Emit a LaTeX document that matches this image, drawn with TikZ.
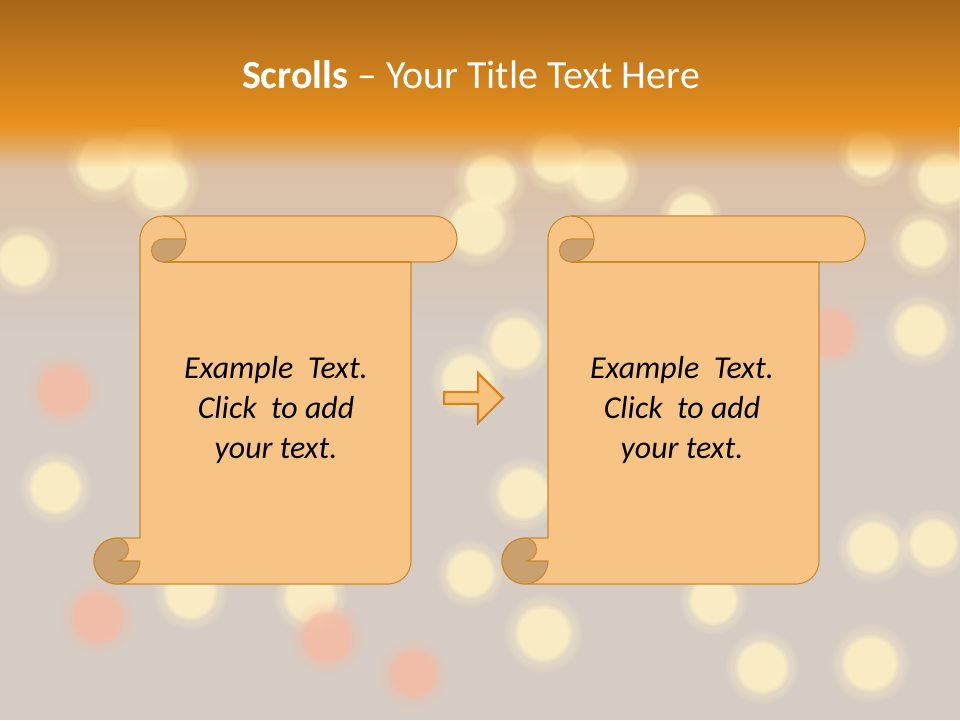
\documentclass[tikz,border=0pt]{standalone}
\usepackage{fontspec}
\setmainfont{Carlito}
\usepackage{xcolor}
\usepackage{tikz}
\usetikzlibrary{fadings}

\definecolor{bgbase}{HTML}{D6CCC4}
\definecolor{bandtop}{HTML}{A8661A}
\definecolor{bandlow}{HTML}{E8921E}
\definecolor{glowA}{HTML}{FFF2C4}
\definecolor{glowB}{HTML}{F5BCA4}
\definecolor{paper}{HTML}{F7C486}
\definecolor{paperline}{HTML}{C98A2E}
\definecolor{curl}{HTML}{C9A06E}
\definecolor{arrowfill}{HTML}{F6C27E}
\definecolor{arrowline}{HTML}{D6831C}

\begin{document}
\begin{tikzpicture}[
    x=0.26458mm, y=-0.26458mm,
    bokeh/.style   ={fill=#1, fill opacity=0.8,
                     path fading=circle with fuzzy edge 20 percent},
    halo/.style    ={fill=#1, fill opacity=0.3,
                     path fading=circle with fuzzy edge 20 percent},
    paperbody/.style={fill=paper, draw=paperline, line width=0.8pt, line join=round},
    curlpart/.style={fill=curl, draw=paperline, line width=0.8pt, line join=round},
    blockarrow/.style={fill=arrowfill, draw=arrowline, line width=1.6pt, line join=miter},
    titletxt/.style={font=\fontsize{30}{36}\selectfont, text=white, inner sep=0pt},
    bodytxt/.style ={font=\fontsize{24}{30}\selectfont\itshape, align=center, inner sep=0pt}
  ]
    \useasboundingbox (0,0) rectangle (960,720);
    % --- background ---
    \fill[bgbase] (0,0) rectangle (960,720);
    \fill[bandlow!60!glowB, opacity=0.35, path fading=south] (0,120) rectangle (960,330);
    \foreach \cx/\cy/\r/\c in {104/163/30/glowA, 147/147/28/glowA, 160/182/30/glowA,
        490/180/28/glowA, 557/157/28/glowA, 600/174/30/glowA, 870/153/26/glowA,
        943/178/28/glowA, 23/260/28/glowA, 63/390/28/glowB, 55/487/28/glowA,
        97/617/28/glowB, 190/593/28/glowA, 310/597/28/glowA, 327/637/28/glowB,
        477/227/30/glowA, 467/380/28/glowA, 470/573/26/glowA, 413/673/26/glowB,
        515/343/28/glowA, 523/493/28/glowA, 543/633/30/glowA, 713/600/26/glowA,
        762/667/28/glowA, 873/547/28/glowA, 933/543/26/glowA, 870/663/30/glowA,
        920/330/28/glowA, 830/333/26/glowB, 923/243/26/glowA, 690/215/24/glowA}
      {
      \fill[halo=\c] (\cx,\cy) circle[radius=1.35*\r];
      \fill[bokeh=\c] (\cx,\cy) circle[radius=\r];
      }
    % title band
    \shade[top color=bandtop, bottom color=bandlow] (0,0) rectangle (960,126);
    \fill[bandlow, path fading=south] (0,125) rectangle (960,168);
    \node[titletxt] (title) at (471,75) {\textbf{Scrolls} – Your Title Text Here};

    % --- left scroll ---
    \begin{scope}[shift={(0,0)}]
      % sheet with top roll and bottom flap
      \draw[paperbody] (140,239) arc[start angle=180, end angle=270, radius=23]
        -- (434,216) arc[start angle=270, end angle=450, radius=23]
        -- (411,262) -- (411,561) arc[start angle=0, end angle=90, radius=23]
        -- (117,584) arc[start angle=90, end angle=270, radius=23]
        -- (140,538) -- cycle;
      \draw[paperbody, fill=none] (163,262) -- (411,262);
      % top curl
      \draw[paperbody, fill=none] (163,216) arc[start angle=270, end angle=360, radius=23];
      \draw[curlpart] (186,239) arc[start angle=0, end angle=90, radius=23]
        arc[start angle=90, end angle=270, radius=11.5] -- cycle;
      % bottom curl
      \draw[curlpart] (117,538) arc[start angle=270, end angle=0, radius=23]
        -- (117,561) arc[start angle=90, end angle=-90, radius=11.5] -- cycle;
      \node[bodytxt] (txtA) at (276,410) {Example~ Text.\\Click~ to add\\your text.};
    \end{scope}

    % --- arrow between the scrolls ---
    \draw[blockarrow] (444,392) -- (478,392) -- (478,373) -- (503,398)
      -- (478,423) -- (478,404) -- (444,404) -- cycle;

    % --- right scroll ---
    \begin{scope}[shift={(408,0)}]
      \draw[paperbody] (140,239) arc[start angle=180, end angle=270, radius=23]
        -- (434,216) arc[start angle=270, end angle=450, radius=23]
        -- (411,262) -- (411,561) arc[start angle=0, end angle=90, radius=23]
        -- (117,584) arc[start angle=90, end angle=270, radius=23]
        -- (140,538) -- cycle;
      \draw[paperbody, fill=none] (163,262) -- (411,262);
      \draw[paperbody, fill=none] (163,216) arc[start angle=270, end angle=360, radius=23];
      \draw[curlpart] (186,239) arc[start angle=0, end angle=90, radius=23]
        arc[start angle=90, end angle=270, radius=11.5] -- cycle;
      \draw[curlpart] (117,538) arc[start angle=270, end angle=0, radius=23]
        -- (117,561) arc[start angle=90, end angle=-90, radius=11.5] -- cycle;
      \node[bodytxt] (txtB) at (274,410) {Example~ Text.\\Click~ to add\\your text.};
    \end{scope}
  \end{tikzpicture}
\end{document}
